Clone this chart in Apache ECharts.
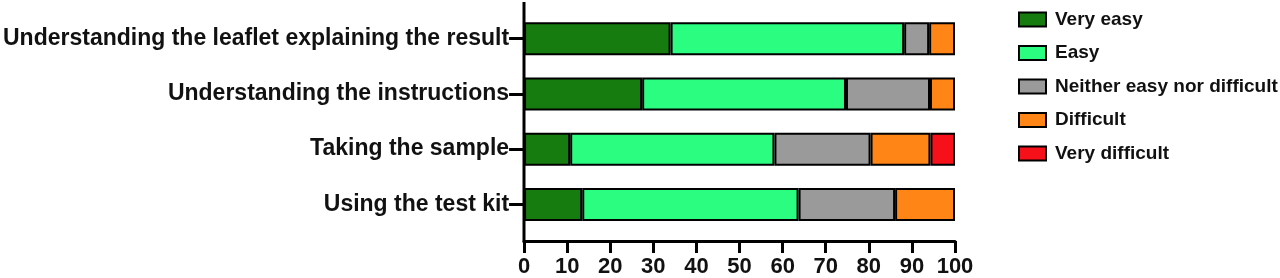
<!DOCTYPE html>
<html>
<head>
<meta charset="utf-8">
<script src="https://cdn.jsdelivr.net/npm/echarts@6/dist/echarts.min.js"></script>
<style>
html,body{margin:0;padding:0;background:#fff;}
#main{width:1280px;height:278px;}
</style>
</head>
<body>
<div id="main"></div>
<script>
var categories = [
  'Understanding the leaflet explaining the result',
  'Understanding the instructions',
  'Taking the sample',
  'Using the test kit'
];
var seriesNames = ['Very easy', 'Easy', 'Neither easy nor difficult', 'Difficult', 'Very difficult'];
var veryEasy = [34.0, 27.4, 10.7, 13.5];
var easy = [54.2, 47.3, 47.4, 50.2];
var neither = [5.8, 19.5, 22.3, 22.4];
var difficult = [6.0, 5.8, 13.9, 13.9];
var veryDifficult = [0, 0, 5.7, 0];
var xTicks = [0, 10, 20, 30, 40, 50, 60, 70, 80, 90, 100];

var colors = ['#167c0f', '#2afd80', '#9a9a9a', '#ff8517', '#f5101a'];
var dataSets = [veryEasy, easy, neither, difficult, veryDifficult];
var FONT = '"Liberation Sans", Arial, sans-serif';

var chart = echarts.init(document.getElementById('main'), null, {renderer: 'canvas'});
var series = seriesNames.map(function (name, i) {
  return {
    name: name,
    type: 'bar',
    stack: 'total',
    barWidth: 33,
    data: dataSets[i].map(function (v) { return v === 0 ? null : v; }),
    itemStyle: { color: colors[i], borderColor: '#000', borderWidth: 2 },
    emphasis: { disabled: true }
  };
});

chart.setOption({
  animation: false,
  textStyle: { fontFamily: FONT },
  grid: { left: 524, right: 325, top: 11, bottom: 46, containLabel: false },
  legend: {
    orient: 'vertical',
    left: 1013,
    top: 5,
    itemWidth: 27,
    itemHeight: 14,
    itemGap: 14.5,
    icon: 'rect',
    data: seriesNames,
    textStyle: { fontFamily: FONT, fontWeight: 'bold', fontSize: 19, color: '#111', padding: [0, 0, 0, 4] },
    itemStyle: { borderColor: '#000', borderWidth: 2 }
  },
  xAxis: {
    type: 'value',
    min: 0,
    max: 100,
    interval: 10,
    offset: 9,
    splitLine: { show: false },
    axisLine: { show: true, lineStyle: { color: '#000', width: 3 } },
    axisTick: { show: true, length: 12, lineStyle: { color: '#000', width: 3 } },
    axisLabel: {
      margin: 15,
      fontFamily: FONT, fontWeight: 'bold', fontSize: 22, color: '#111',
      formatter: function (v) { return xTicks.indexOf(v) >= 0 ? String(v) : ''; }
    }
  },
  yAxis: {
    type: 'category',
    inverse: true,
    data: categories,
    axisLine: { show: false },
    axisTick: { show: true, length: 15, alignWithLabel: true, lineStyle: { color: '#000', width: 3 } },
    axisLabel: { margin: 15, fontFamily: FONT, fontWeight: 'bold', fontSize: 23, color: '#111' }
  },
  graphic: [{
    type: 'line',
    shape: { x1: 524, y1: 2, x2: 524, y2: 242.5 },
    style: { stroke: '#000', lineWidth: 3 },
    z: 10
  }],
  series: series
});
</script>
</body>
</html>
